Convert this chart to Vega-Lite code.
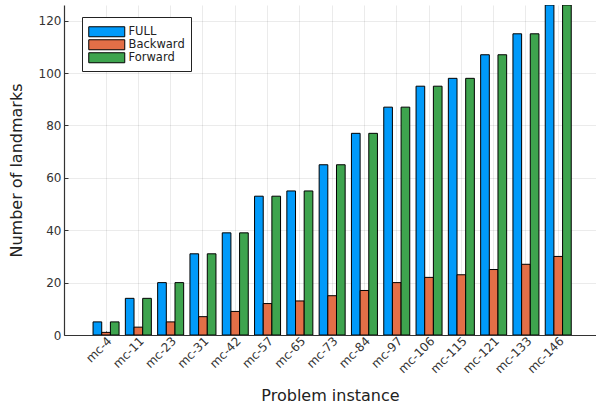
{
  "$schema": "https://vega.github.io/schema/vega-lite/v6.json",
  "width": 532,
  "height": 330,
  "autosize": {"type": "none"},
  "padding": {"left": 64, "top": 5, "right": 0, "bottom": 69},
  "background": "white",
  "config": {"view": {"stroke": null}, "font": "DejaVu Sans"},
  "data": {"values": [
    {"instance": "mc-4", "series": "FULL", "value": 5},
    {"instance": "mc-4", "series": "Backward", "value": 1},
    {"instance": "mc-4", "series": "Forward", "value": 5},
    {"instance": "mc-11", "series": "FULL", "value": 14},
    {"instance": "mc-11", "series": "Backward", "value": 3},
    {"instance": "mc-11", "series": "Forward", "value": 14},
    {"instance": "mc-23", "series": "FULL", "value": 20},
    {"instance": "mc-23", "series": "Backward", "value": 5},
    {"instance": "mc-23", "series": "Forward", "value": 20},
    {"instance": "mc-31", "series": "FULL", "value": 31},
    {"instance": "mc-31", "series": "Backward", "value": 7},
    {"instance": "mc-31", "series": "Forward", "value": 31},
    {"instance": "mc-42", "series": "FULL", "value": 39},
    {"instance": "mc-42", "series": "Backward", "value": 9},
    {"instance": "mc-42", "series": "Forward", "value": 39},
    {"instance": "mc-57", "series": "FULL", "value": 53},
    {"instance": "mc-57", "series": "Backward", "value": 12},
    {"instance": "mc-57", "series": "Forward", "value": 53},
    {"instance": "mc-65", "series": "FULL", "value": 55},
    {"instance": "mc-65", "series": "Backward", "value": 13},
    {"instance": "mc-65", "series": "Forward", "value": 55},
    {"instance": "mc-73", "series": "FULL", "value": 65},
    {"instance": "mc-73", "series": "Backward", "value": 15},
    {"instance": "mc-73", "series": "Forward", "value": 65},
    {"instance": "mc-84", "series": "FULL", "value": 77},
    {"instance": "mc-84", "series": "Backward", "value": 17},
    {"instance": "mc-84", "series": "Forward", "value": 77},
    {"instance": "mc-97", "series": "FULL", "value": 87},
    {"instance": "mc-97", "series": "Backward", "value": 20},
    {"instance": "mc-97", "series": "Forward", "value": 87},
    {"instance": "mc-106", "series": "FULL", "value": 95},
    {"instance": "mc-106", "series": "Backward", "value": 22},
    {"instance": "mc-106", "series": "Forward", "value": 95},
    {"instance": "mc-115", "series": "FULL", "value": 98},
    {"instance": "mc-115", "series": "Backward", "value": 23},
    {"instance": "mc-115", "series": "Forward", "value": 98},
    {"instance": "mc-121", "series": "FULL", "value": 107},
    {"instance": "mc-121", "series": "Backward", "value": 25},
    {"instance": "mc-121", "series": "Forward", "value": 107},
    {"instance": "mc-133", "series": "FULL", "value": 115},
    {"instance": "mc-133", "series": "Backward", "value": 27},
    {"instance": "mc-133", "series": "Forward", "value": 115},
    {"instance": "mc-146", "series": "FULL", "value": 126},
    {"instance": "mc-146", "series": "Backward", "value": 30},
    {"instance": "mc-146", "series": "Forward", "value": 126}
  ]},
  "mark": {"type": "bar", "stroke": "black", "strokeWidth": 1, "clip": true},
  "encoding": {
    "x": {
      "field": "instance", "type": "nominal", "sort": null,
      "scale": {"paddingInner": 0.195, "paddingOuter": 0.833, "align": 0.54},
      "axis": {
        "title": "Problem instance", "titleFontSize": 16, "titleFontWeight": "normal", "titleColor": "#222",
        "titlePadding": 13,
        "labelAngle": -45, "labelFontSize": 12, "labelColor": "#333", "labelPadding": 4,
        "grid": true, "gridColor": "#000", "gridOpacity": 0.08, "bandPosition": 0.5,
        "tickSize": -4, "tickColor": "#333", "domainColor": "#333", "domainWidth": 1.2
      }
    },
    "xOffset": {
      "field": "series", "type": "nominal", "sort": ["FULL", "Backward", "Forward"],
      "scale": {"paddingInner": 0, "paddingOuter": 0}
    },
    "y": {
      "field": "value", "type": "quantitative",
      "scale": {"domain": [0, 126], "nice": false},
      "axis": {
        "title": "Number of landmarks", "titleFontSize": 16, "titleFontWeight": "normal", "titleColor": "#222",
        "titlePadding": 14,
        "values": [0, 20, 40, 60, 80, 100, 120],
        "labelFontSize": 12, "labelColor": "#333", "labelPadding": 7,
        "grid": true, "gridColor": "#000", "gridOpacity": 0.08,
        "tickSize": -4, "tickColor": "#333", "domainColor": "#333", "domainWidth": 1.2
      }
    },
    "color": {
      "field": "series", "type": "nominal",
      "scale": {"domain": ["FULL", "Backward", "Forward"], "range": ["#009AFA", "#E36F47", "#3EA44E"]},
      "legend": {
        "title": " ", "titleFontSize": 3, "titlePadding": 0,
        "orient": "none", "legendX": 18, "legendY": 12,
        "strokeColor": "#222", "fillColor": "white", "padding": 6,
        "symbolType": "M-1,-1H6.2V1H-1Z", "symbolSize": 100,
        "symbolStrokeColor": "black", "symbolStrokeWidth": 1, "symbolOpacity": 1,
        "labelFontSize": 11.5, "labelColor": "#222", "labelOffset": 29, "rowPadding": -3.4
      }
    }
  }
}
